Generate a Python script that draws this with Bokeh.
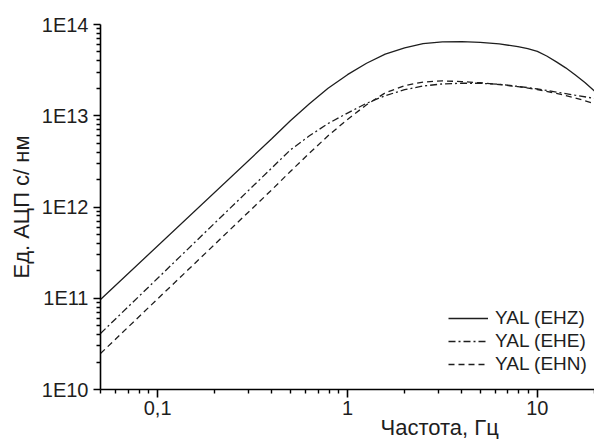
from bokeh.plotting import figure
from bokeh.models import (Range1d, FixedTicker, CustomJSTickFormatter, Legend,
                          LegendItem, Title)
from bokeh.embed import file_html
from bokeh.resources import INLINE

# ---- data ----
freq_ehz = [0.05, 0.4, 0.5, 0.63, 0.79, 1.0, 1.26, 1.58, 2.0, 2.5, 3.16, 4.0, 5.0,
            6.3, 7.9, 8.9, 10.0, 11.2, 12.6, 14.1, 15.8, 17.8, 20.0]
resp_ehz = [9.68e10, 5.62e12, 8.81e12, 1.35e13, 2.00e13, 2.82e13, 3.76e13, 4.73e13,
            5.56e13, 6.17e13, 6.46e13, 6.49e13, 6.38e13, 6.12e13, 5.72e13, 5.43e13,
            5.07e13, 4.52e13, 3.89e13, 3.35e13, 2.82e13, 2.32e13, 1.86e13]

freq_ehe = [0.05, 0.4, 0.5, 0.63, 0.79, 1.0, 1.26, 1.58, 2.0, 2.5, 3.16, 4.0, 5.0,
            6.3, 7.9, 10.0, 12.6, 15.8, 20.0]
resp_ehe = [4.11e10, 2.69e12, 4.22e12, 6.03e12, 8.22e12, 1.07e13, 1.37e13, 1.66e13,
            1.93e13, 2.12e13, 2.23e13, 2.27e13, 2.27e13, 2.21e13, 2.10e13, 1.97e13,
            1.82e13, 1.68e13, 1.55e13]

freq_ehn = [0.05, 0.4, 0.5, 0.63, 0.79, 1.0, 1.26, 1.58, 2.0, 2.5, 3.16, 4.0, 5.0,
            6.3, 7.9, 10.0, 12.6, 15.8, 20.0]
resp_ehn = [2.48e10, 1.55e12, 2.45e12, 3.89e12, 6.03e12, 9.12e12, 1.32e13, 1.78e13,
            2.14e13, 2.34e13, 2.41e13, 2.37e13, 2.30e13, 2.20e13, 2.08e13, 1.94e13,
            1.76e13, 1.57e13, 1.36e13]

series_names = ["YAL (EHZ)", "YAL (EHE)", "YAL (EHN)"]
x_ticks = [0.1, 1, 10]
x_tick_labels = ["0,1", "1", "10"]
y_ticks = [1e10, 1e11, 1e12, 1e13, 1e14]
y_tick_labels = ["1E10", "1E11", "1E12", "1E13", "1E14"]
x_label = "Частота, Гц"
y_label = "Ед. АЦП с/ нм"

FONT = "Liberation Sans"
INK = "#1e1e1e"

p = figure(width=594, height=439, x_axis_type="log", y_axis_type="log",
           x_range=Range1d(0.05, 20.0), y_range=Range1d(1e10, 1e14),
           output_backend="svg", toolbar_location=None,
           min_border_left=100, min_border_right=0, min_border_top=24,
           min_border_bottom=50)
p.outline_line_color = None
p.grid.visible = False
p.background_fill_color = "white"
p.border_fill_color = "white"

x_minor = [m * 10.0 ** e for e in range(-2, 2) for m in range(2, 10)]
y_minor = [m * 10.0 ** e for e in range(10, 14) for m in range(2, 10)]
p.xaxis.ticker = FixedTicker(ticks=x_ticks, minor_ticks=x_minor)
p.yaxis.ticker = FixedTicker(ticks=y_ticks, minor_ticks=y_minor)

fmt_code = """
let best = 0, d = Infinity;
for (let i = 0; i < tvals.length; i++) {
  const e = Math.abs(Math.log10(tvals[i]) - Math.log10(tick));
  if (e < d) { d = e; best = i; }
}
return tlabels[best];
"""
p.xaxis.formatter = CustomJSTickFormatter(args=dict(tvals=x_ticks, tlabels=x_tick_labels), code=fmt_code)
p.yaxis.formatter = CustomJSTickFormatter(args=dict(tvals=y_ticks, tlabels=y_tick_labels), code=fmt_code)

for ax in (p.xaxis[0], p.yaxis[0]):
    ax.axis_line_color = "black"
    ax.axis_line_width = 1.6
    ax.major_tick_line_color = "black"
    ax.major_tick_line_width = 1.6
    ax.minor_tick_line_color = "black"
    ax.minor_tick_line_width = 1.4
    ax.major_tick_in = 0
    ax.minor_tick_in = 0
    ax.major_label_text_font = FONT
    ax.major_label_text_font_size = "20px"
    ax.major_label_text_color = INK

p.xaxis.major_tick_out = 8
p.xaxis.minor_tick_out = 4
p.xaxis.major_label_standoff = 3
p.yaxis.major_tick_out = 7
p.yaxis.minor_tick_out = 4
p.yaxis.major_label_standoff = 5

p.yaxis.axis_label = y_label
p.yaxis.axis_label_text_font = FONT
p.yaxis.axis_label_text_font_size = "22px"
p.yaxis.axis_label_text_font_style = "normal"
p.yaxis.axis_label_text_color = INK
p.yaxis.axis_label_standoff = 5

r1 = p.line(freq_ehz, resp_ehz, line_color=INK, line_width=1.3)
r2 = p.line(freq_ehe, resp_ehe, line_color=INK, line_width=1.3, line_dash="7 3 2 3")
r3 = p.line(freq_ehn, resp_ehn, line_color=INK, line_width=1.3, line_dash="6 4")

legend = Legend(items=[LegendItem(label=series_names[0], renderers=[r1]),
                       LegendItem(label=series_names[1], renderers=[r2]),
                       LegendItem(label=series_names[2], renderers=[r3])],
                location=(348, 14), orientation="vertical",
                glyph_width=40, glyph_height=20, label_height=20, spacing=1,
                padding=0, margin=0, label_standoff=7,
                background_fill_alpha=0, border_line_alpha=0,
                label_text_font=FONT, label_text_font_size="19px",
                label_text_color=INK)
p.add_layout(legend)

xtitle = Title(text=x_label, align="left", offset=280, standoff=-10,
               text_font=FONT, text_font_size="22px", text_font_style="normal",
               text_color=INK)
p.add_layout(xtitle, "below")

open("out.html", "w").write(file_html(p, INLINE))
